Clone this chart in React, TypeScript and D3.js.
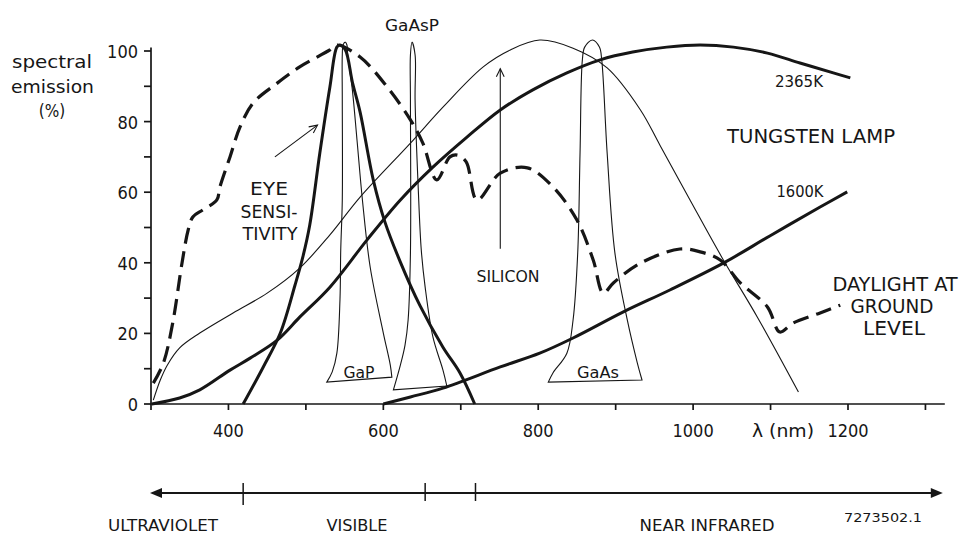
import React from 'react';
import * as d3 from 'd3';

// ---- data (wavelength nm, relative %) ----
const daylightNm = [303, 316, 328, 340, 348, 354, 367, 385, 389, 402, 415, 432, 463, 492, 531, 540, 570, 605, 635, 651, 669, 686, 696, 707, 721, 751, 786, 819, 850, 871, 884, 897, 932, 983, 1009, 1035, 1061, 1096, 1112, 1129, 1164, 1190];
const daylightPct = [5.9, 11.6, 22.9, 39.9, 49.3, 53, 55, 57.8, 61.5, 70, 78.5, 85.3, 90.9, 95.5, 100.3, 101.7, 98.3, 89.8, 80.5, 73.9, 63.5, 70, 70.5, 68.6, 57.8, 65.4, 66.9, 61.5, 52.1, 40.8, 31.4, 34.3, 39.9, 43.9, 43.1, 40.8, 34.3, 27.5, 20.4, 22.9, 25.8, 28];

const eyeNm = [419, 445, 467, 486, 496, 505, 518, 531, 540, 544, 551, 560, 570, 587, 602, 622, 647, 677, 699, 718];
const eyePct = [0, 10.5, 20.1, 33.7, 41.6, 50.7, 71.1, 89.8, 101.1, 101.7, 100.3, 91.2, 82.7, 63.5, 51.6, 40.2, 28, 16.1, 8.8, 0];

const siliconNm = [303, 312, 321, 337, 363, 406, 450, 492, 531, 570, 635, 677, 729, 764, 802, 845, 889, 932, 957, 996, 1037, 1083, 1136];
const siliconPct = [1.1, 6.8, 11, 15.9, 20.1, 25.8, 31.4, 38.5, 47.9, 58.6, 73.9, 84.1, 95.5, 100.3, 103.1, 100.8, 95.2, 83.3, 73.4, 57.8, 41.6, 24.6, 3.4];

const lamp2365Nm = [301, 337, 363, 402, 428, 463, 492, 531, 579, 622, 664, 708, 751, 793, 837, 880, 922, 966, 1009, 1052, 1096, 1138, 1181, 1203];
const lamp2365Pct = [0, 1.7, 4, 9.6, 13, 18.1, 24.6, 33.1, 46.5, 57.8, 67.1, 75.6, 83.3, 89, 93.8, 97.5, 99.7, 101.1, 101.7, 101.1, 99.4, 96.6, 93.8, 92.4];

const lamp1600Nm = [600, 635, 677, 751, 802, 845, 910, 970, 1039, 1099, 1164, 1199];
const lamp1600Pct = [0, 2, 4.5, 10.5, 14.4, 18.7, 26.1, 32.3, 39.9, 47.6, 55.8, 60.1];

const gapNm = [527, 534, 540, 544, 545, 547, 547, 547, 548, 551, 553, 554, 560, 566, 573, 583, 600, 609, 611];
const gapPct = [6.2, 9.1, 14.4, 29.5, 43.6, 57.8, 86.1, 98.9, 101.7, 102.5, 101.7, 98.9, 89, 74.8, 57.8, 38.8, 20.1, 11, 7.6];

const gaasPNm = [613, 622, 628, 632, 635, 635, 635, 637, 641, 641, 645, 649, 654, 664, 677, 682];
const gaasPPct = [4, 11, 16.7, 23.8, 42.8, 86.1, 98.9, 102.5, 98.9, 86.1, 61.5, 43.6, 33.1, 19, 9.6, 5.1];

const gaasNm = [813, 819, 837, 845, 851, 854, 857, 860, 870, 879, 882, 889, 899, 915, 928, 934];
const gaasPct = [6.2, 8.8, 14.4, 23.8, 42.8, 71.1, 97.5, 101.1, 103.1, 101.1, 97.5, 71.1, 42.8, 23.8, 11.6, 6.8];

const xTickValues = [300, 400, 500, 600, 700, 800, 900, 1000, 1100, 1200, 1300];
const xTickLabels = [400, 600, 800, 1000, 1200];
const yTickValues = [0, 10, 20, 30, 40, 50, 60, 70, 80, 90, 100];
const yTickLabels = [0, 20, 40, 60, 80, 100];
const bandBoundaries = [419, 654, 719];
const bandLabels = ['ULTRAVIOLET', 'VISIBLE', 'NEAR INFRARED'];

const FONT = "'DejaVu Sans Condensed','Liberation Sans Narrow','DejaVu Sans',sans-serif";
const INK = '#161616';

export default function App() {
  const W = 959, H = 536;
  const x = d3.scaleLinear().domain([300, 1200]).range([151, 848]);
  const y = d3.scaleLinear().domain([0, 100]).range([404, 51]);

  const zip = (a: number[], b: number[]) => a.map((v, i) => [v, b[i]] as [number, number]);
  const line = d3.line<[number, number]>()
    .x(d => x(d[0])).y(d => y(d[1]))
    .curve(d3.curveCatmullRom.alpha(0.5));

  const closed = (a: number[], b: number[]) => line(zip(a, b)) + 'Z';

  const axisEnd = x(1325);
  const bandY = 493;

  const arrowHead = (x1: number, y1: number, x2: number, y2: number, len = 9) => {
    const ang = Math.atan2(y2 - y1, x2 - x1);
    const a1 = ang + Math.PI - 0.45, a2 = ang + Math.PI + 0.45;
    return `M${x2 + len * Math.cos(a1)},${y2 + len * Math.sin(a1)}L${x2},${y2}L${x2 + len * Math.cos(a2)},${y2 + len * Math.sin(a2)}`;
  };

  const eyeArrow = [[460, 70], [515, 79]];
  const siArrow = [[751, 44], [751, 95]];

  const txt = (s: string, px: number, py: number, size: number, anchor: string = 'start', len?: number) => (
    <text x={px} y={py} fontSize={size} textAnchor={anchor} fontFamily={FONT} fill={INK}
      {...(len ? { textLength: len, lengthAdjust: 'spacingAndGlyphs' } : {})}>{s}</text>
  );

  const bandCentres = [163, 357, 707];
  const bandLens = [110, 61, 135];

  return (
    <svg width={W} height={H} viewBox={`0 0 ${W} ${H}`}
      style={{ position: 'absolute', left: 0, top: 0, background: '#fff' }}>
      <rect width={W} height={H} fill="#fff" />

      {/* axes */}
      <g stroke={INK} strokeWidth={1.7} fill="none">
        <line x1={x(300)} x2={axisEnd} y1={y(0)} y2={y(0)} />
        <line x1={x(300)} x2={x(300)} y1={y(0)} y2={y(101)} />
        {xTickValues.map(v => <line key={'xt' + v} x1={x(v)} x2={x(v)} y1={y(0)} y2={y(0) + 6} />)}
        {yTickValues.map(v => <line key={'yt' + v} x1={x(300) - 7} x2={x(300)} y1={y(v)} y2={y(v)} />)}
      </g>
      {xTickLabels.map(v => <g key={'xl' + v}>{txt(String(v), x(v), 437, 18, 'middle')}</g>)}
      {yTickLabels.map(v => <g key={'yl' + v}>{txt(String(v), 138, y(v) + 7, 18, 'end')}</g>)}
      {txt('λ (nm)', 752, 437, 18, 'start', 62)}
      {txt('spectral', 12, 68, 17, 'start', 80)}
      {txt('emission', 11, 93, 17, 'start', 83)}
      {txt('(%)', 52, 117, 17, 'middle')}

      {/* LED emission outlines */}
      <g stroke={INK} strokeWidth={1.1} fill="none">
        <path d={closed(gapNm, gapPct)} />
        <path d={closed(gaasPNm, gaasPPct)} />
        <path d={closed(gaasNm, gaasPct)} />
      </g>

      {/* silicon */}
      <path d={line(zip(siliconNm, siliconPct)) || ''} stroke={INK} strokeWidth={1.1} fill="none" />
      {/* tungsten lamps */}
      <path d={line(zip(lamp2365Nm, lamp2365Pct)) || ''} stroke={INK} strokeWidth={3} fill="none" />
      <path d={line(zip(lamp1600Nm, lamp1600Pct)) || ''} stroke={INK} strokeWidth={3} fill="none" />
      {/* eye */}
      <path d={line(zip(eyeNm, eyePct)) || ''} stroke={INK} strokeWidth={3} fill="none" />
      {/* daylight */}
      <path d={line(zip(daylightNm, daylightPct)) || ''} stroke={INK} strokeWidth={3.2} fill="none"
        strokeDasharray="16 8" />

      {/* annotation arrows */}
      <g stroke={INK} strokeWidth={1.1} fill="none">
        <line x1={x(eyeArrow[0][0])} y1={y(eyeArrow[0][1])} x2={x(eyeArrow[1][0])} y2={y(eyeArrow[1][1])} />
        <path d={arrowHead(x(eyeArrow[0][0]), y(eyeArrow[0][1]), x(eyeArrow[1][0]), y(eyeArrow[1][1]))} />
        <line x1={x(siArrow[0][0])} y1={y(siArrow[0][1])} x2={x(siArrow[1][0])} y2={y(siArrow[1][1])} />
        <path d={arrowHead(x(siArrow[0][0]), y(siArrow[0][1]), x(siArrow[1][0]), y(siArrow[1][1]))} />
      </g>

      {/* labels */}
      {txt('GaAsP', 412, 31, 15, 'middle', 54)}
      {txt('GaP', 359, 378, 15, 'middle', 31)}
      {txt('GaAs', 598, 378, 15, 'middle', 42)}
      {txt('SILICON', 508, 282, 15, 'middle', 63)}
      {txt('EYE', 269, 195, 18, 'middle', 38)}
      {txt('SENSI-', 269, 218, 18, 'middle', 57)}
      {txt('TIVITY', 270, 240, 18, 'middle', 55)}
      {txt('2365K', 799, 87, 16, 'middle', 48)}
      {txt('TUNGSTEN LAMP', 811, 143, 20, 'middle', 168)}
      {txt('1600K', 800, 197, 16, 'middle', 47)}
      {txt('DAYLIGHT AT', 895, 291, 20, 'middle', 125)}
      {txt('GROUND', 892, 313, 20, 'middle', 83)}
      {txt('LEVEL', 894, 335, 20, 'middle', 62)}

      {/* spectrum band axis */}
      <g stroke={INK} strokeWidth={2.2} fill="none">
        <line x1={x(300) + 6} x2={axisEnd - 6} y1={bandY} y2={bandY} />
      </g>
      <path d={`M${x(300) - 1},${bandY}l12,-5l0,10z`} fill={INK} />
      <path d={`M${axisEnd - 2},${bandY}l-12,-5l0,10z`} fill={INK} />
      <g stroke={INK} strokeWidth={1.5}>
        {bandBoundaries.map((b, i) => (
          <line key={'bb' + b} x1={x(b)} x2={x(b)} y1={bandY - 10} y2={bandY + (i === 0 ? 12 : 8)} />
        ))}
      </g>
      {bandLabels.map((s, i) => <g key={s}>{txt(s, bandCentres[i], 531, 15, 'middle', bandLens[i])}</g>)}
      {txt('7273502.1', 883, 522, 12, 'middle', 78)}
    </svg>
  );
}
